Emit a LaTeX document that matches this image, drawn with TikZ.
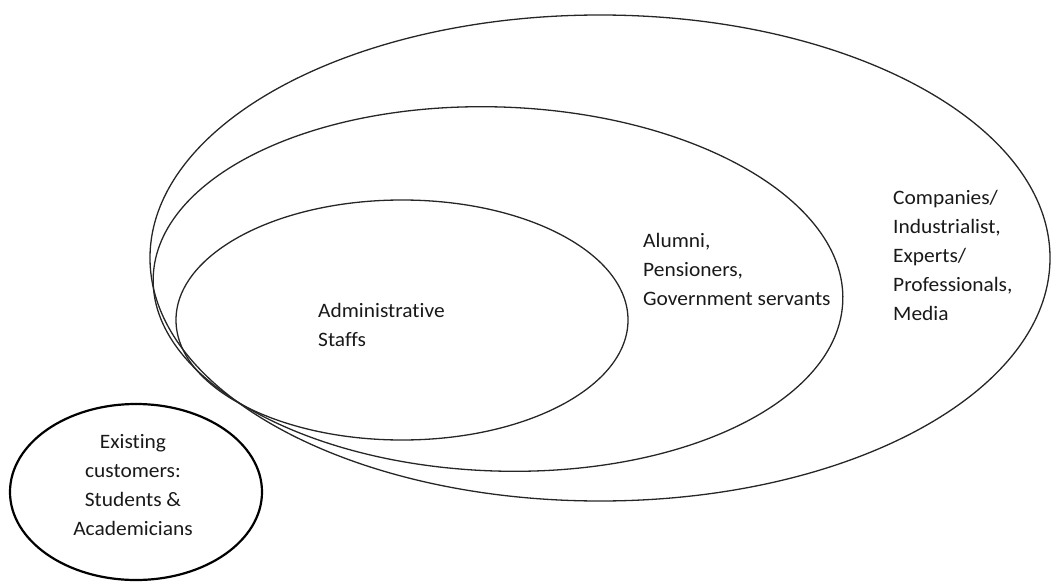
\documentclass[tikz,border=0pt]{standalone}
\usepackage{fontspec}
\setmainfont{Carlito}[Ligatures=CommonOff, FakeStretch=1.045]
\begin{document}
\begin{tikzpicture}[x=1pt,y=-1pt,
  ring/.style={draw=black!85, line width=1.3pt},
  thickring/.style={draw=black, line width=2.2pt},
  lbl/.style={inner sep=0pt, font=\fontsize{20.5}{29}\selectfont, text=black!90}]
\useasboundingbox (0,0) rectangle (1051,583);
\draw[ring] (600,258) ellipse [x radius=450, y radius=243];
\draw[ring, rotate around={-2:(498,289)}] (498,289) ellipse [x radius=345, y radius=182];
\draw[ring] (402,320) ellipse [x radius=226, y radius=120];
\draw[thickring] (136,492) ellipse [x radius=126, y radius=88];
\node[lbl, anchor=west, align=left] (admin) at (318,324.5) {Administrative\\Staffs};
\node[lbl, anchor=west, align=left] (alumni) at (643,269) {Alumni,\\Pensioners,\\Government servants};
\node[lbl, anchor=west, align=left] (comp) at (893,255) {Companies/\\Industrialist,\\Experts/\\Professionals,\\Media};
\node[lbl, align=center] (exist) at (133,485.5) {Existing\\customers:\\Students \&\\Academicians};
\end{tikzpicture}
\end{document}
